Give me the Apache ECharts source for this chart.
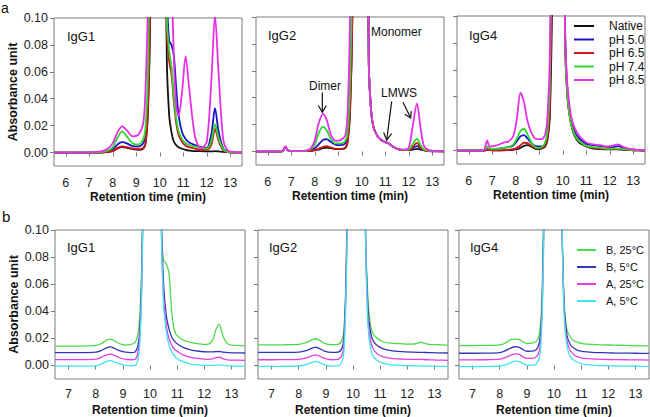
<!DOCTYPE html>
<html>
<head>
<meta charset="utf-8">
<script src="https://cdn.jsdelivr.net/npm/echarts@6/dist/echarts.min.js"></script>
<style>
html,body{margin:0;padding:0;background:#fff;}
#chart{width:650px;height:417px;}
</style>
</head>
<body>
<div id="chart"></div>
<script>
// ---------- tick labels ----------
const yTicks = [0, 0.02, 0.04, 0.06, 0.08, 0.10];
const xTicksTop = [6, 7, 8, 9, 10, 11, 12, 13];
const xTicksBottom = [7, 8, 9, 10, 11, 12, 13];
const panelNames = ['IgG1', 'IgG2', 'IgG4'];
const seriesTop = ['Native', 'pH 5.0', 'pH 6.5', 'pH 7.4', 'pH 8.5'];
const seriesBottom = ['B, 25°C', 'B, 5°C', 'A, 25°C', 'A, 5°C'];

// ---------- panel a, IgG1 ----------
const tA1 = [5.5, 6.0, 6.5, 7.0, 7.5, 7.8, 8.0, 8.2, 8.4, 8.6, 8.85, 9.1, 9.3, 9.4, 9.5, 9.6, 9.8, 10.0, 10.2, 10.3, 10.4, 10.5, 10.6, 10.7, 10.8, 10.95, 11.1, 11.25, 11.5, 11.75, 12.0, 12.2, 12.35, 12.5, 12.7, 12.9, 13.2, 13.5];
const a1Native = [0,0,0,0,0,0.0005,0.001,0.003,0.004,0.0035,0.0025,0.002,0.003,0.007,0.03,0.11,0.5,0.6,0.25,0.07,0.028,0.015,0.008,0.0055,0.004,0.0028,0.002,0.0015,0.001,0.001,0.0008,0.0008,0.001,0.0008,0.0005,0.0003,0,0];
const a1PH50 = [0,0,0,0,0.0002,0.001,0.0025,0.006,0.0077,0.0068,0.0048,0.0045,0.007,0.013,0.045,0.16,0.55,0.6,0.35,0.12,0.083,0.08,0.072,0.048,0.028,0.015,0.01,0.0075,0.0055,0.004,0.0035,0.014,0.033,0.016,0.003,0.0008,0.0002,0];
const a1PH65 = [0,0,0,0,0,0.0005,0.0012,0.0035,0.0045,0.004,0.003,0.0025,0.0035,0.008,0.035,0.12,0.5,0.6,0.3,0.09,0.068,0.058,0.038,0.022,0.013,0.008,0.005,0.004,0.003,0.002,0.002,0.006,0.0175,0.009,0.0015,0.0003,0,0];
const a1PH74 = [0,0,0,0,0.0003,0.0015,0.004,0.011,0.0158,0.012,0.0068,0.006,0.01,0.02,0.06,0.2,0.55,0.6,0.3,0.1,0.076,0.064,0.042,0.026,0.016,0.01,0.007,0.0055,0.0045,0.0035,0.003,0.009,0.021,0.011,0.0025,0.0005,0,0];
const a1PH85 = [0,0,0,0.0002,0.0008,0.003,0.007,0.015,0.0195,0.0165,0.012,0.0135,0.022,0.05,0.12,0.35,0.6,0.7,0.6,0.5,0.3,0.14,0.07,0.035,0.027,0.045,0.0715,0.048,0.012,0.003,0.008,0.055,0.102,0.06,0.01,0.0015,0.0003,0];

// ---------- panel a, IgG2 ----------
const tA2 = [5.5, 6.0, 6.5, 6.65, 6.75, 6.85, 7.0, 7.5, 7.8, 8.0, 8.15, 8.35, 8.5, 8.7, 8.9, 9.1, 9.3, 9.4, 9.5, 9.6, 9.8, 10.0, 10.2, 10.3, 10.4, 10.5, 10.65, 10.8, 11.0, 11.15, 11.3, 11.5, 11.8, 12.0, 12.15, 12.35, 12.5, 12.65, 12.85, 13.1, 13.5];
const a2Native = [0,0,0,0.0005,0.0035,0.001,0.0003,0.0003,0.0005,0.001,0.0015,0.0025,0.003,0.0025,0.0018,0.0018,0.0025,0.007,0.028,0.1,0.5,0.6,0.3,0.065,0.03,0.018,0.012,0.009,0.007,0.006,0.004,0.002,0.001,0.001,0.0015,0.002,0.0015,0.0008,0.0004,0.0002,0.0001];
const a2PH50 = [0,0,0,0.0005,0.0035,0.001,0.0003,0.0003,0.001,0.0025,0.005,0.0085,0.0092,0.007,0.005,0.0048,0.006,0.012,0.04,0.12,0.5,0.6,0.3,0.065,0.03,0.018,0.012,0.009,0.007,0.006,0.004,0.002,0.001,0.001,0.0025,0.004,0.0025,0.001,0.0005,0.0003,0.0002];
const a2PH65 = [0,0,0,0.0005,0.0035,0.001,0.0003,0.0003,0.0005,0.001,0.002,0.0035,0.004,0.003,0.002,0.002,0.003,0.008,0.03,0.1,0.5,0.6,0.3,0.065,0.03,0.018,0.012,0.009,0.007,0.006,0.004,0.002,0.001,0.001,0.003,0.0064,0.003,0.001,0.0005,0.0003,0.0002];
const a2PH74 = [0,0,0,0.0005,0.0035,0.001,0.0003,0.0003,0.0015,0.005,0.013,0.0185,0.016,0.009,0.006,0.006,0.008,0.015,0.05,0.14,0.5,0.6,0.3,0.065,0.03,0.018,0.012,0.009,0.007,0.006,0.004,0.002,0.0012,0.0015,0.005,0.0094,0.005,0.0015,0.0005,0.0003,0.0002];
const a2PH85 = [0,0,0,0.0005,0.004,0.001,0.0005,0.0005,0.002,0.008,0.02,0.028,0.024,0.012,0.008,0.0085,0.012,0.03,0.1,0.3,0.6,0.7,0.3,0.065,0.03,0.018,0.012,0.009,0.007,0.006,0.004,0.002,0.0015,0.003,0.017,0.0356,0.018,0.004,0.001,0.0005,0.0003];

// ---------- panel a, IgG4 ----------
const tA3 = [5.5, 6.0, 6.5, 6.65, 6.72, 6.78, 6.9, 7.1, 7.3, 7.5, 7.7, 7.9, 8.05, 8.2, 8.35, 8.5, 8.7, 8.9, 9.1, 9.25, 9.35, 9.45, 9.55, 9.7, 9.9, 10.0, 10.1, 10.2, 10.35, 10.5, 10.7, 11.0, 11.3, 11.6, 11.9, 12.1, 12.35, 12.6, 12.9, 13.2, 13.5];
const a3Native = [0,0,0,0,0.0003,0.0005,0.0003,0.0002,0.0002,0.0002,0.0003,0.0006,0.001,0.002,0.0035,0.004,0.0025,0.001,0.0015,0.003,0.008,0.025,0.12,0.6,0.7,0.5,0.085,0.04,0.02,0.011,0.006,0.003,0.0015,0.001,0.0008,0.0008,0.0008,0.0005,0.0003,0.0001,0];
const a3PH50 = [0,0,0,0,0.0005,0.001,0.0008,0.001,0.0015,0.002,0.0025,0.004,0.007,0.0105,0.0115,0.009,0.005,0.003,0.003,0.005,0.012,0.04,0.18,0.6,0.7,0.5,0.09,0.045,0.022,0.014,0.009,0.005,0.004,0.0035,0.0025,0.0025,0.0033,0.002,0.0008,0.0003,0.0002];
const a3PH65 = [0,0,0,0,0.0003,0.0005,0.0003,0.0002,0.0002,0.0003,0.0005,0.001,0.002,0.004,0.0058,0.0055,0.003,0.0015,0.002,0.004,0.01,0.03,0.15,0.6,0.7,0.5,0.085,0.04,0.02,0.012,0.007,0.0035,0.002,0.0015,0.001,0.001,0.001,0.0008,0.0004,0.0002,0.0001];
const a3PH74 = [0,0,0,0.0002,0.002,0.003,0.0015,0.0012,0.0015,0.002,0.0025,0.0045,0.009,0.0145,0.0162,0.012,0.005,0.002,0.0025,0.006,0.015,0.05,0.2,0.6,0.7,0.5,0.085,0.04,0.02,0.012,0.007,0.0035,0.0025,0.002,0.0015,0.0015,0.0015,0.001,0.0005,0.0002,0.0001];
const a3PH85 = [0,0,0,0.0003,0.004,0.0075,0.003,0.0035,0.0045,0.006,0.0068,0.011,0.024,0.043,0.036,0.022,0.012,0.0085,0.0085,0.012,0.025,0.07,0.25,0.6,0.7,0.5,0.09,0.048,0.026,0.017,0.011,0.006,0.0045,0.004,0.003,0.0035,0.0046,0.0025,0.001,0.0005,0.0003];

// ---------- panel b, IgG1 ----------
const tB1 = [6.5, 7.0, 7.5, 8.0, 8.2, 8.4, 8.55, 8.7, 8.9, 9.1, 9.3, 9.45, 9.55, 9.62, 9.7, 9.8, 10.0, 10.2, 10.35, 10.42, 10.5, 10.6, 10.7, 10.8, 10.9, 11.0, 11.2, 11.5, 11.8, 12.1, 12.3, 12.42, 12.55, 12.7, 12.9, 13.2, 13.5];
const b1B25 = [0.0143,0.0143,0.0143,0.0148,0.016,0.0188,0.0195,0.018,0.016,0.015,0.0155,0.017,0.022,0.035,0.08,0.25,0.6,0.6,0.3,0.1,0.078,0.075,0.068,0.04,0.026,0.022,0.019,0.017,0.016,0.0155,0.0185,0.026,0.0305,0.021,0.0155,0.0148,0.0145];
const b1B5 = [0.0095,0.0095,0.0095,0.0098,0.011,0.013,0.0137,0.0125,0.0108,0.0098,0.0095,0.01,0.014,0.025,0.07,0.2,0.6,0.6,0.25,0.11,0.06,0.037,0.027,0.021,0.018,0.016,0.0135,0.0115,0.0105,0.01,0.01,0.0102,0.0103,0.0098,0.0095,0.0093,0.0092];
const b1A25 = [0.0043,0.0043,0.0043,0.0046,0.006,0.0078,0.0083,0.0072,0.0055,0.0045,0.0042,0.0046,0.009,0.02,0.065,0.2,0.6,0.6,0.25,0.1,0.05,0.029,0.02,0.015,0.012,0.0105,0.008,0.006,0.005,0.0045,0.0048,0.0058,0.0062,0.0048,0.004,0.004,0.0038];
const b1A5 = [-0.0005,-0.0005,-0.0005,-0.0003,0.001,0.003,0.0035,0.0025,0.001,0,-0.0003,0,0.004,0.015,0.06,0.2,0.6,0.6,0.25,0.1,0.045,0.025,0.015,0.01,0.007,0.005,0.003,0.001,0.0003,0,0,0.0003,0.0004,0,-0.0003,-0.0005,-0.0005];

// ---------- panel b, IgG2 ----------
const tB2 = [6.5, 7.0, 7.5, 8.0, 8.3, 8.5, 8.62, 8.75, 8.95, 9.2, 9.45, 9.6, 9.67, 9.74, 9.82, 10.0, 10.3, 10.4, 10.46, 10.55, 10.65, 10.75, 10.9, 11.1, 11.4, 11.8, 12.2, 12.4, 12.5, 12.6, 12.8, 13.1, 13.5];
const b2B25 = [0.0152,0.0152,0.0153,0.0156,0.017,0.019,0.0197,0.0187,0.0163,0.0153,0.0156,0.019,0.028,0.065,0.17,0.6,0.6,0.25,0.1,0.05,0.029,0.023,0.02,0.0175,0.0165,0.016,0.0157,0.0165,0.0172,0.0165,0.0156,0.0153,0.015];
const b2B5 = [0.0096,0.0096,0.0097,0.0099,0.0112,0.0128,0.0135,0.0126,0.0106,0.0096,0.0098,0.013,0.022,0.06,0.16,0.6,0.6,0.25,0.1,0.042,0.024,0.018,0.0145,0.0125,0.011,0.0102,0.0098,0.0097,0.0097,0.0096,0.0095,0.0093,0.0092];
const b2A25 = [0.0042,0.0042,0.0043,0.0045,0.0058,0.0072,0.0078,0.007,0.0052,0.0042,0.0045,0.008,0.017,0.055,0.15,0.6,0.6,0.25,0.1,0.035,0.018,0.012,0.0085,0.0065,0.0052,0.0047,0.0045,0.0045,0.0046,0.0044,0.0042,0.004,0.0038];
const b2A5 = [-0.0007,-0.0007,-0.0006,-0.0004,0.0008,0.0025,0.003,0.0022,0.0005,-0.0005,-0.0003,0.003,0.012,0.05,0.15,0.6,0.6,0.25,0.1,0.03,0.012,0.0065,0.0035,0.0018,0.0005,0,-0.0003,-0.0003,-0.0003,-0.0004,-0.0005,-0.0006,-0.0007];

// ---------- panel b, IgG4 ----------
const tB3 = [6.5, 7.0, 7.5, 8.0, 8.2, 8.4, 8.55, 8.7, 8.85, 9.0, 9.2, 9.35, 9.45, 9.52, 9.58, 9.65, 9.8, 10.1, 10.22, 10.3, 10.38, 10.48, 10.6, 10.75, 10.9, 11.1, 11.4, 11.8, 12.2, 12.6, 13.0, 13.5];
const b3B25 = [0.0147,0.0147,0.0148,0.0152,0.0165,0.019,0.0195,0.0192,0.0175,0.0162,0.0165,0.0178,0.022,0.035,0.07,0.16,0.6,0.6,0.25,0.1,0.045,0.026,0.021,0.018,0.0168,0.016,0.0155,0.0152,0.015,0.0148,0.0146,0.0144];
const b3B5 = [0.009,0.009,0.0091,0.0095,0.0108,0.0128,0.0138,0.0136,0.0118,0.0105,0.0106,0.0118,0.016,0.028,0.06,0.15,0.6,0.6,0.25,0.1,0.042,0.022,0.0155,0.0125,0.011,0.0102,0.0097,0.0094,0.0092,0.0091,0.009,0.0089];
const b3A25 = [0.0041,0.0041,0.0042,0.0046,0.0058,0.0075,0.0085,0.0083,0.0065,0.0052,0.0052,0.0065,0.01,0.022,0.055,0.14,0.6,0.6,0.25,0.1,0.038,0.018,0.011,0.0078,0.0062,0.0053,0.0048,0.0045,0.0043,0.0042,0.0041,0.004];
const b3A5 = [-0.0008,-0.0008,-0.0007,-0.0004,0.0005,0.002,0.0032,0.003,0.0015,0.0003,0.0002,0.0012,0.005,0.016,0.05,0.13,0.6,0.6,0.25,0.1,0.035,0.014,0.0065,0.0035,0.002,0.001,0.0003,-0.0002,-0.0004,-0.0005,-0.0006,-0.0007];

// ---------- styling ----------
const FONT = '"Liberation Sans", Arial, sans-serif';
const colorsTop = ['#111111', '#1414c8', '#d01818', '#2fd82f', '#e62fe6'];
const colorsBottom = ['#48dc48', '#3434b8', '#e23ee2', '#3fe4ea'];

const gridsPx = [
  {left: 54, top: 18, width: 188, height: 148},
  {left: 256, top: 17, width: 188, height: 148},
  {left: 457, top: 16, width: 188, height: 148},
  {left: 55, top: 230, width: 190, height: 149},
  {left: 258, top: 230, width: 190, height: 149},
  {left: 459, top: 230, width: 190, height: 149}
];

const topData = [
  [tA1, [a1Native, a1PH50, a1PH65, a1PH74, a1PH85]],
  [tA2, [a2Native, a2PH50, a2PH65, a2PH74, a2PH85]],
  [tA3, [a3Native, a3PH50, a3PH65, a3PH74, a3PH85]]
];
const bottomData = [
  [tB1, [b1B25, b1B5, b1A25, b1A5]],
  [tB2, [b2B25, b2B5, b2A25, b2A5]],
  [tB3, [b3B25, b3B5, b3A25, b3A5]]
];

function pairs(x, y) { return x.map((t, i) => [t, y[i]]); }

const grid = gridsPx.map(g => Object.assign({show: true, borderColor: '#7a7a7a', borderWidth: 1, backgroundColor: 'transparent'}, g));

const xAxis = gridsPx.map((g, i) => {
  const top = i < 3;
  const ticks = top ? xTicksTop : xTicksBottom;
  return {
    gridIndex: i, type: 'value', min: top ? 5.5 : 6.5, max: 13.5,
    splitLine: {show: false},
    axisLine: {show: false},
    axisTick: {show: true, length: 4, inside: false, customValues: ticks, lineStyle: {color: '#7a7a7a'}},
    axisLabel: {show: true, customValues: ticks, fontSize: 12.5, fontFamily: FONT, color: '#222', margin: top ? 10 : 8},
    name: 'Retention time (min)', nameLocation: 'middle', nameGap: 25,
    nameTextStyle: {fontSize: 12, fontWeight: 'bold', fontFamily: FONT, color: '#111'}
  };
});

const yAxis = gridsPx.map((g, i) => ({
  gridIndex: i, type: 'value', min: -0.01, max: 0.10,
  splitLine: {show: false},
  axisLine: {show: false},
  axisTick: {show: true, length: 4, inside: false, customValues: yTicks, lineStyle: {color: '#7a7a7a'}},
  axisLabel: {show: i % 3 === 0, customValues: yTicks, formatter: v => v.toFixed(2), fontSize: 12.5, fontFamily: FONT, color: '#222', margin: 6},
  name: i % 3 === 0 ? 'Absorbance unit' : '', nameLocation: 'middle', nameGap: 32,
  nameTextStyle: {fontSize: 12.5, fontWeight: 'bold', fontFamily: FONT, color: '#111'}
}));

const series = [];
topData.forEach(([x, ys], p) => {
  ys.forEach((y, k) => {
    series.push({
      type: 'line', name: seriesTop[k], xAxisIndex: p, yAxisIndex: p,
      data: pairs(x, y), showSymbol: false, smooth: 0.3, clip: true,
      lineStyle: {width: 1.8, color: colorsTop[k]}, itemStyle: {color: colorsTop[k]},
      silent: true, animation: false
    });
  });
});
bottomData.forEach(([x, ys], p) => {
  ys.forEach((y, k) => {
    series.push({
      type: 'line', name: seriesBottom[k], xAxisIndex: p + 3, yAxisIndex: p + 3,
      data: pairs(x, y), showSymbol: false, smooth: 0.3, clip: true,
      lineStyle: {width: 1.3, color: colorsBottom[k]}, itemStyle: {color: colorsBottom[k]},
      silent: true, animation: false
    });
  });
});

// ---------- text and annotations ----------
const graphic = [];
function txt(text, x, y, size, opts) {
  graphic.push({type: 'text', x: x, y: y, silent: true,
    style: Object.assign({text: text, fill: '#111', fontSize: size, fontFamily: FONT, verticalAlign: 'middle', align: 'left'}, opts || {})});
}
function seg(x1, y1, x2, y2, color, w) {
  graphic.push({type: 'line', silent: true, shape: {x1: x1, y1: y1, x2: x2, y2: y2}, style: {stroke: color, lineWidth: w}});
}
function poly(points, w) {
  graphic.push({type: 'polyline', silent: true, shape: {points: points}, style: {stroke: '#111', lineWidth: w, fill: null}});
}
txt('a', 1, 8, 14);
txt('b', 2, 216, 15);
[[67, 36], [268, 35], [469, 35]].forEach((p, i) => txt(panelNames[i], p[0], p[1], 13));
[[67, 247], [269, 247], [470, 247]].forEach((p, i) => txt(panelNames[i], p[0], p[1], 13));
// legend a
[26, 39.5, 53, 66.5, 80].forEach((y, k) => {
  seg(574, y, 594, y, colorsTop[k], 2);
  txt(seriesTop[k], 609, y, 12);
});
// legend b
[250, 267, 284, 301].forEach((y, k) => {
  seg(577, y, 596, y, colorsBottom[k], 2);
  txt(seriesBottom[k], 606, y, 11);
});
// IgG2 annotations
txt('Monomer', 371, 32, 12);
txt('Dimer', 309, 86, 12);
txt('LMWS', 381, 93, 12);
seg(322.3, 92.5, 322.3, 112.3, '#111', 1.2);
poly([[318.3, 105.5], [322.3, 112.3], [326.3, 105.5]], 1.2);
seg(391.7, 101.3, 386.7, 140, '#111', 1.2);
poly([[383.6, 132.6], [386.7, 140], [391.6, 133.6]], 1.2);
seg(403, 102.3, 410.7, 118, '#111', 1.2);
poly([[404.9, 114.2], [410.7, 118], [411.2, 111.1]], 1.2);

const chart = echarts.init(document.getElementById('chart'), null, {renderer: 'svg'});
chart.setOption({
  animation: false,
  backgroundColor: '#fff',
  textStyle: {fontFamily: FONT},
  grid: grid, xAxis: xAxis, yAxis: yAxis, series: series, graphic: graphic
});
</script>
</body>
</html>
